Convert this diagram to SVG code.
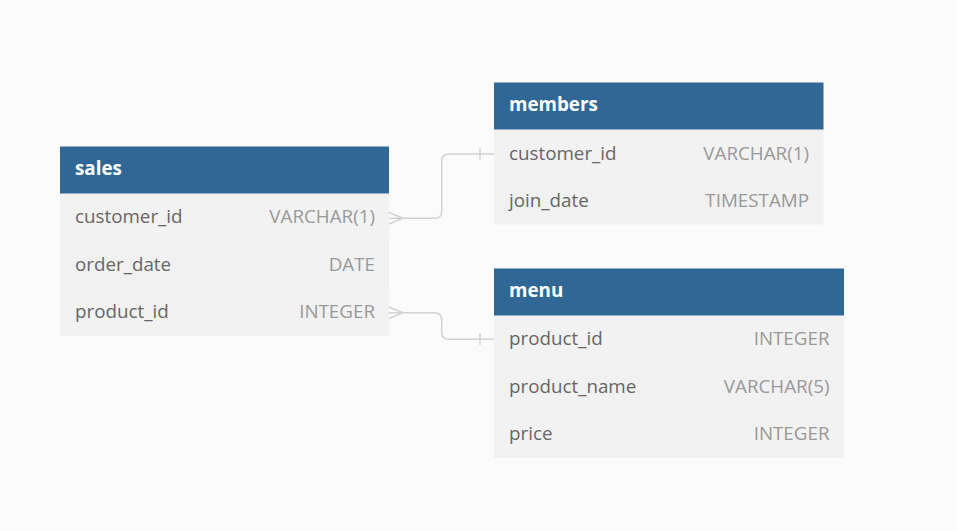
<svg xmlns="http://www.w3.org/2000/svg" width="957" height="531" viewBox="0 0 957 531">
<style>
.hd{fill:#316794}
.r1{fill:#f2f2f2}
.r2{fill:#f1f1f1}
.t{font-family:"Open Sans","Liberation Sans",sans-serif;font-size:18.8px}
.th{font-weight:bold;fill:#ffffff}
.cn{fill:#666666}
.ct{fill:#999999;text-anchor:end}
.ln{fill:none;stroke:#d2d2d2;stroke-width:1.5}
</style>
<rect width="957" height="531" fill="#fbfbfb"/>
<g id="connectors">
<path class="ln" d="M389 212.5 L403 218.3 L389 224 M389 218.3 L434.5 218.3 Q441.7 218.3 441.7 211 L441.7 161.3 Q441.7 154 449 154 L494 154 M480 148 L480 160"/>
<path class="ln" d="M389 307 L403 312.7 L389 318.5 M389 312.7 L434.5 312.7 Q441.7 312.7 441.7 320 L441.7 332 Q441.7 339.3 449 339.3 L494 339.3 M480 333.5 L480 345"/>
</g>
<g id="sales">
<rect class="r1" x="60" y="193.5" width="329" height="47.5"/>
<rect class="r2" x="60" y="241" width="329" height="47.5"/>
<rect class="r1" x="60" y="288.5" width="329" height="47.5"/>
<rect class="hd" x="60" y="146.5" width="329" height="47"/>
<text class="t th" x="75" y="175">sales</text>
<text class="t cn" x="75" y="222.5">customer_id</text>
<text class="t ct" x="375" y="222.5">VARCHAR(1)</text>
<text class="t cn" x="75" y="270.5">order_date</text>
<text class="t ct" x="375" y="270.5">DATE</text>
<text class="t cn" x="75" y="318">product_id</text>
<text class="t ct" x="375" y="318">INTEGER</text>
</g>
<g id="members">
<rect class="r1" x="494" y="129.5" width="329.5" height="47.5"/>
<rect class="r2" x="494" y="177" width="329.5" height="47.5"/>
<rect class="hd" x="494" y="82.5" width="329.5" height="47"/>
<text class="t th" x="509" y="111.3">members</text>
<text class="t cn" x="509" y="159.5">customer_id</text>
<text class="t ct" x="809" y="159.5">VARCHAR(1)</text>
<text class="t cn" x="509" y="206.5">join_date</text>
<text class="t ct" x="809" y="206.5">TIMESTAMP</text>
</g>
<g id="menu">
<rect class="r1" x="494" y="315.5" width="350" height="47.5"/>
<rect class="r2" x="494" y="363" width="350" height="47.5"/>
<rect class="r1" x="494" y="410.5" width="350" height="47.5"/>
<rect class="hd" x="494" y="268.5" width="350" height="47"/>
<text class="t th" x="509" y="297.3">menu</text>
<text class="t cn" x="509" y="345">product_id</text>
<text class="t ct" x="829.5" y="345">INTEGER</text>
<text class="t cn" x="509" y="392.5">product_name</text>
<text class="t ct" x="829.5" y="392.5">VARCHAR(5)</text>
<text class="t cn" x="509" y="440">price</text>
<text class="t ct" x="829.5" y="440">INTEGER</text>
</g>
</svg>
